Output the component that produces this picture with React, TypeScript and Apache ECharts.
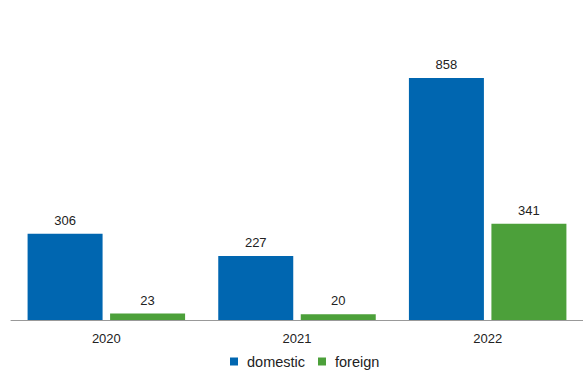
import React, { useEffect, useRef } from "react";
import * as echarts from "echarts";

const categories = ["2020", "2021", "2022"];
const domestic = [306, 227, 858];
const foreign = [23, 20, 341];

export default function App() {
  const ref = useRef<HTMLDivElement>(null);
  useEffect(() => {
    if (!ref.current) return;
    const chart = echarts.init(ref.current, undefined, { renderer: "svg" });
    const font = "Liberation Sans, Arial, sans-serif";
    const label = {
      show: true,
      position: "top",
      distance: 7,
      color: "#222",
      fontSize: 13,
      fontFamily: font,
    };
    chart.setOption({
      animation: false,
      backgroundColor: "#fff",
      textStyle: { fontFamily: font },
      grid: { left: 11, right: -2, top: 38, bottom: 54, containLabel: false },
      legend: {
        top: 349,
        left: 225,
        icon: "rect",
        itemWidth: 8,
        itemHeight: 8,
        itemGap: 13,
        textStyle: {
          fontSize: 14.5,
          color: "#222",
          fontFamily: font,
          padding: [0, 0, 0, 4],
        },
        data: ["domestic", "foreign"],
      },
      xAxis: {
        type: "category",
        data: categories,
        axisLine: { show: true, lineStyle: { color: "#999", width: 1 } },
        axisTick: { show: false },
        axisLabel: { margin: 12, fontSize: 13, color: "#222", fontFamily: font },
      },
      yAxis: {
        type: "value",
        min: 0,
        max: 1000,
        show: false,
        splitLine: { show: false },
      },
      series: [
        {
          name: "domestic",
          type: "bar",
          data: domestic,
          barWidth: 75,
          barGap: "10%",
          itemStyle: { color: "#0066B0" },
          label,
        },
        {
          name: "foreign",
          type: "bar",
          data: foreign,
          barWidth: 75,
          barGap: "10%",
          itemStyle: { color: "#4CA03A" },
          label,
        },
      ],
    });
    return () => chart.dispose();
  }, []);
  return <div ref={ref} style={{ width: 583, height: 374, position: "absolute", left: 0, top: 0 }} />;
}
